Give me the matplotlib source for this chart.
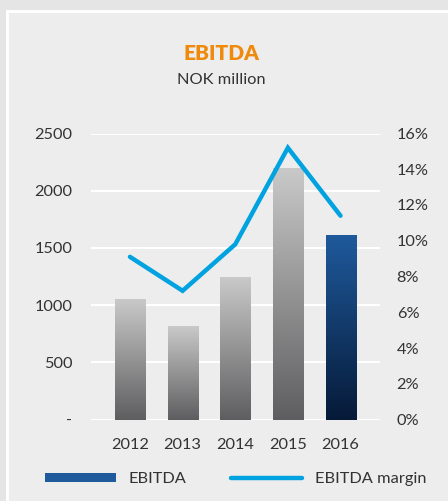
import matplotlib
matplotlib.use('Agg')

import matplotlib.pyplot as plt
import numpy as np
from matplotlib.patches import Patch, Rectangle
from matplotlib.lines import Line2D
from matplotlib.ticker import FuncFormatter
from matplotlib.colors import LinearSegmentedColormap

years = ["2012", "2013", "2014", "2015", "2016"]
ebitda = [1050, 815, 1250, 2200, 1610]
margin = [9.1, 7.2, 9.8, 15.2, 11.4]
left_ticks = [0, 500, 1000, 1500, 2000, 2500]
left_labels = ["-", "500", "1000", "1500", "2000", "2500"]
right_ticks = [0, 2, 4, 6, 8, 10, 12, 14, 16]

plt.rcParams['font.family'] = ['Lato', 'DejaVu Sans']
text_col = "#333333"
fs = 11.8

fig = plt.figure(figsize=(4.48, 5.01), dpi=100)
fig.patch.set_facecolor("#e5e5e5")

# panel with white border
panel = Rectangle((7 / 448, -0.01), 1, 1.01 - 11 / 501, transform=fig.transFigure,
                  facecolor="#ededed", edgecolor="white", linewidth=2, zorder=-5)
fig.patches.append(panel)

ax = fig.add_axes([91 / 448, 1 - 419.5 / 501, (380 - 91) / 448, (419.5 - 133.5) / 501])
ax.set_facecolor("none")
x = np.arange(len(years))

grey = LinearSegmentedColormap.from_list("grey", ["#5e5e60", "#c9c9c9"])
blue = LinearSegmentedColormap.from_list("blue", ["#061a38", "#1f5a9c"])

bars = ax.bar(x, ebitda, width=0.57, color="none", zorder=2)
grad = np.linspace(0, 1, 256).reshape(-1, 1)
for i, b in enumerate(bars):
    cmap = blue if i == len(bars) - 1 else grey
    im = ax.imshow(grad, cmap=cmap, origin="lower", aspect="auto", zorder=2,
                   extent=[b.get_x(), b.get_x() + b.get_width(), 0, b.get_height()])
    im.set_clip_path(b)

ax.set_xlim(-0.74, 4.75)
ax.set_ylim(0, 2500)
ax.set_yticks(left_ticks)
ax.set_yticklabels(left_labels)
ax.set_xticks(x)
ax.set_xticklabels(years)
ax.grid(axis="y", color="white", linewidth=1.5, zorder=1)
ax.set_axisbelow(True)
for s in ax.spines.values():
    s.set_visible(False)
ax.tick_params(length=0, colors=text_col, labelsize=fs)
ax.tick_params(axis="y", pad=13.5)
ax.tick_params(axis="x", pad=13)

ax2 = ax.twinx()
ax2.plot(x, margin, color="#00a3e0", linewidth=3.2, solid_capstyle="round",
         solid_joinstyle="miter", zorder=3)
ax2.set_ylim(0, 16)
ax2.set_yticks(right_ticks)
ax2.yaxis.set_major_formatter(FuncFormatter(lambda v, p: f"{v:.0f}%"))
for s in ax2.spines.values():
    s.set_visible(False)
ax2.tick_params(length=0, colors=text_col, labelsize=fs, pad=12)

fig.text(0.495, 1 - 54 / 501, "EBITDA", ha="center", va="center",
         fontsize=15, fontweight="heavy", color="#ef8a0c")
fig.text(0.495, 1 - 80 / 501, "NOK million", ha="center", va="center",
         fontsize=fs, color=text_col)

leg_kw = dict(loc="center left", frameon=False, fontsize=fs, borderpad=0,
              handlelength=4.3, handleheight=0.45, handletextpad=0.8,
              labelcolor=text_col)
fig.legend([Patch(facecolor="#1f5a9c", edgecolor="none")], ["EBITDA"],
           bbox_to_anchor=(37 / 448, 1 - 479 / 501), **leg_kw)
fig.legend([Line2D([0], [0], color="#00a3e0", linewidth=3.2, solid_capstyle="round")],
           ["EBITDA margin"], bbox_to_anchor=(223 / 448, 1 - 479 / 501), **leg_kw)

fig.savefig("out.png", dpi=100, facecolor=fig.get_facecolor())
